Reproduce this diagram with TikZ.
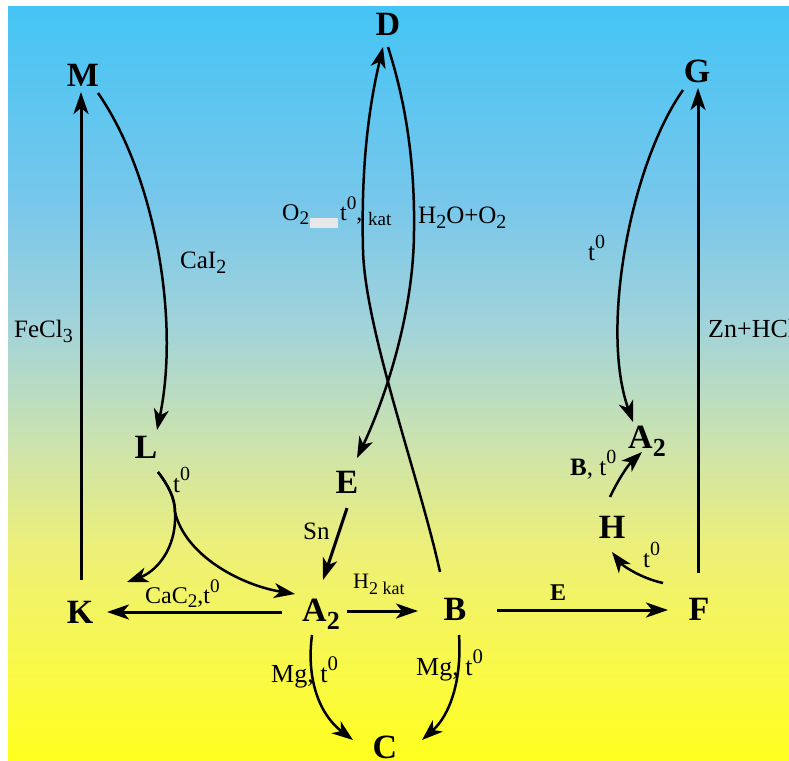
\documentclass[tikz,border=0pt]{standalone}
\usepackage{fontspec}
\setmainfont{Liberation Serif}
\usepackage{graphicx}
\usetikzlibrary{arrows.meta,calc}
\pgfdeclareverticalshading{bgshade}{100bp}{rgb(0bp)=(1,1,0.12); rgb(25bp)=(1,1,0.12); rgb(32.5bp)=(0.97,0.97,0.32); rgb(39bp)=(0.93,0.94,0.47); rgb(46bp)=(0.80,0.89,0.68); rgb(53.5bp)=(0.64,0.83,0.85); rgb(62bp)=(0.47,0.78,0.92); rgb(75bp)=(0.27,0.77,0.96); rgb(100bp)=(0.27,0.77,0.96)}
\newcommand{\myup}[1]{\raisebox{0.45em}{\scalebox{0.8}{#1}}}
\newcommand{\mydn}[1]{\raisebox{-0.2em}{\scalebox{0.8}{#1}}}
\begin{document}
\begin{tikzpicture}[x=1pt,y=-1pt,
  chem/.style={font=\fontsize{34}{34}\selectfont\bfseries, inner sep=0pt, anchor=base},
  lab/.style={font=\fontsize{25}{25}\selectfont, inner sep=0pt, anchor=base west},
  arr/.style={line width=3pt, -{Stealth[length=22pt,width=15pt,inset=6pt]}},
  carr/.style={line width=2.5pt, -{Stealth[length=21pt,width=15pt,inset=6pt]}}]
\useasboundingbox (0,0) rectangle (789,760);
\fill[white] (0,0) rectangle (789,760);
\shade[shading=bgshade] (8,7) rectangle (789,760);

% species
\node[chem] (M) at (83,86) {M};
\node[chem] (D) at (388,36) {D};
\node[chem] (G) at (697,82) {G};
\node[chem] (L) at (146,458) {L};
\node[chem] (E) at (347,493) {E};
\node[chem] (Ar) at (647,448) {A\raisebox{-8pt}{\fontsize{26}{26}\selectfont 2}};
\node[chem] (H) at (612,538) {H};
\node[chem] (K) at (80,623) {K};
\node[chem] (A) at (321,621) {A\raisebox{-8pt}{\fontsize{26}{26}\selectfont 2}};
\node[chem] (B) at (455,620) {B};
\node[chem] (F) at (699,620) {F};
\node[chem] (C) at (385,758) {C};

% connectors
\draw[arr] ($(K.base)+(1,-43)$) -- ($(M.base)+(-2,6)$);
\draw[carr] ($(M.base)+(15,7)$) .. controls (155,175) and (180,320) .. ($(L.base)+(11,-28)$);
\draw[carr] ($(L.base)+(12,14)$) .. controls (168,485) and (175,498) .. (175,512) .. controls (177,550) and (155,572) .. ($(K.base)+(47,-41)$);
\draw[carr] ($(L.base)+(12,14)$) .. controls (168,485) and (175,498) .. (175,512) .. controls (185,555) and (240,585) .. ($(A.base)+(-26,-27)$);
\draw[arr] ($(A.base)+(-39,-9)$) -- ($(K.base)+(27,-11)$);
\draw[arr] ($(E.base)+(0,15)$) -- ($(A.base)+(2,-41)$);
\draw[arr] ($(A.base)+(26,-10)$) -- ($(B.base)+(-37,-9)$);
\draw[arr] ($(B.base)+(42,-10)$) -- ($(F.base)+(-31,-10)$);
\draw[arr] ($(F.base)+(-1,-47)$) -- ($(G.base)+(1,6)$);
\draw[carr] ($(F.base)+(-36,-37)$) .. controls (640,578) and (622,565) .. ($(H.base)+(0,14)$);
\draw[carr] ($(H.base)+(-2,-41)$) .. controls (618,480) and (628,465) .. ($(Ar.base)+(-5,4)$);
\draw[carr] ($(G.base)+(-14,8)$) .. controls (630,165) and (600,330) .. ($(Ar.base)+(-14,-26)$);
\draw[carr] ($(B.base)+(-15,-48)$) .. controls (420,480) and (365,330) .. (363,250) .. controls (361,170) and (368,110) .. ($(D.base)+(-5,11)$);
\draw[carr] ($(D.base)+(0,11)$) .. controls (405,100) and (415,160) .. (414,230) .. controls (414,320) and (380,410) .. ($(E.base)+(10,-35)$);
\draw[carr] ($(B.base)+(4,15)$) .. controls (462,680) and (450,715) .. ($(C.base)+(37,-18)$);
\draw[carr] ($(A.base)+(-9,14)$) .. controls (306,680) and (320,715) .. ($(C.base)+(-32,-18)$);

% labels
\node[lab] (lfe) at (14,337) {FeCl\mydn{3}};
\node[lab] (lca) at (180,268) {CaI\mydn{2}};
\node[lab, font=\fontsize{24}{24}\selectfont] (lo2) at (282,220) {O\mydn{2}};
\fill[gray!18] (310,218) rectangle (338,228);
\node[lab, font=\fontsize{24}{24}\selectfont] (lt) at (340,220) {t\myup{0},};
\node[lab, font=\fontsize{19}{19}\selectfont] (lkat) at (368,225) {kat};
\node[lab] (lh2o) at (418,223) {H\mydn{2}O+O\mydn{2}};
\node[lab] (ltg) at (588,260) {t\myup{0}};
\node[lab, font=\fontsize{26}{26}\selectfont] (lzn) at (708,337) {Zn+HCl};
\node[lab] (ltl) at (173,492) {t\myup{0}};
\node[lab, font=\fontsize{24}{24}\selectfont] (lcac) at (145,603) {CaC\mydn{2},t\myup{0}};
\node[lab] (lsn) at (303,539) {Sn};
\node[lab, font=\fontsize{22}{22}\selectfont] (lh2) at (353,588) {H\raisebox{-6pt}{\fontsize{18}{18}\selectfont 2 kat}};
\node[lab, font=\fontsize{24}{24}\selectfont\bfseries] (le) at (550,600) {E};
\node[lab, font=\fontsize{26}{26}\selectfont] (lmg1) at (271,682) {Mg, t\myup{0}};
\node[lab, font=\fontsize{26}{26}\selectfont] (lmg2) at (416,675) {Mg, t\myup{0}};
\node[lab] (lbt) at (570,475) {\textbf{B}, t\myup{0}};
\node[lab] (ltf) at (643,567) {t\myup{0}};
\end{tikzpicture}
\end{document}
